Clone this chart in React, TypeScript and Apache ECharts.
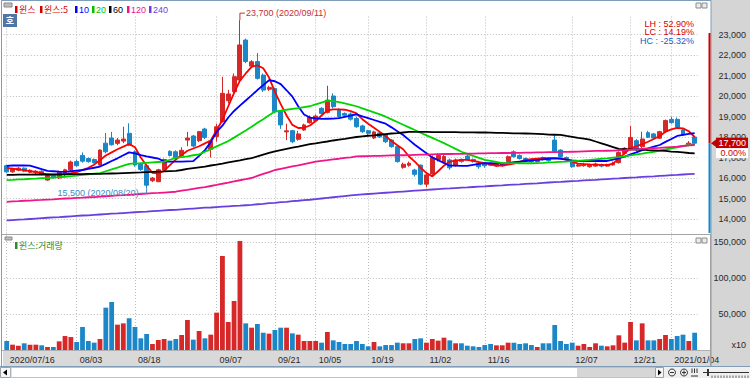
import React, { useEffect, useRef } from "react";
import * as echarts from "echarts";

const dates = [
  "2020/07/16","2020/07/17","2020/07/20","2020/07/21","2020/07/22","2020/07/23","2020/07/24","2020/07/27","2020/07/28","2020/07/29","2020/07/30","2020/07/31",
  "2020/08/03","2020/08/04","2020/08/05","2020/08/06","2020/08/07","2020/08/10","2020/08/11","2020/08/12","2020/08/13","2020/08/14","2020/08/18","2020/08/19","2020/08/20","2020/08/21","2020/08/24","2020/08/25","2020/08/26","2020/08/27","2020/08/28","2020/08/31",
  "2020/09/01","2020/09/02","2020/09/03","2020/09/04","2020/09/07","2020/09/08","2020/09/09","2020/09/10","2020/09/11","2020/09/14","2020/09/15","2020/09/16","2020/09/17","2020/09/18","2020/09/21","2020/09/22","2020/09/23","2020/09/24","2020/09/25","2020/09/28","2020/09/29",
  "2020/10/05","2020/10/06","2020/10/07","2020/10/08","2020/10/12","2020/10/13","2020/10/14","2020/10/15","2020/10/16","2020/10/19","2020/10/20","2020/10/21","2020/10/22","2020/10/23","2020/10/26","2020/10/27","2020/10/28","2020/10/29","2020/10/30",
  "2020/11/02","2020/11/03","2020/11/04","2020/11/05","2020/11/06","2020/11/09","2020/11/10","2020/11/11","2020/11/12","2020/11/13","2020/11/16","2020/11/17","2020/11/18","2020/11/19","2020/11/20","2020/11/23","2020/11/24","2020/11/25","2020/11/26","2020/11/27","2020/11/30",
  "2020/12/01","2020/12/02","2020/12/03","2020/12/04","2020/12/07","2020/12/08","2020/12/09","2020/12/10","2020/12/11","2020/12/14","2020/12/15","2020/12/16","2020/12/17","2020/12/18","2020/12/21","2020/12/22","2020/12/23","2020/12/24","2020/12/28","2020/12/29","2020/12/30",
  "2021/01/04","2021/01/05","2021/01/06","2021/01/07","2021/01/08",
];

const tickDates = ["2020/07/16","2020/08/03","2020/08/18","2020/09/07","2020/09/21","2020/10/05","2020/10/19","2020/11/02","2020/11/16","2020/12/07","2020/12/21","2021/01/04"];
const tickLabels = ["2020/07/16","08/03","08/18","09/07","09/21","10/05","10/19","11/02","11/16","12/07","12/21","2021/01/04"];

const opens = [
  16600,16300,16380,16480,16280,16280,16330,15900,16130,16000,
  16200,16400,16800,17100,16950,16900,16630,17700,17950,17690,
  17800,18180,17280,16680,16600,15870,15820,16400,17300,17280,
  17100,17850,18050,17820,18390,17400,18020,18750,19770,20210,
  20780,22730,21460,21680,21020,20330,20370,19240,18250,18310,
  17890,18340,18700,18800,19400,19200,20000,19320,19150,19120,
  18910,18540,18310,17950,18200,18100,17850,17530,16520,16620,
  16390,16630,15700,16200,16900,16750,16880,16600,16910,17070,
  16900,16720,16700,16700,16580,16600,16800,17280,17100,16950,
  16900,16800,17000,16950,17850,17360,17000,16800,16580,16600,
  16550,16580,16650,16580,16640,16750,17200,17400,17820,17530,
  18210,18150,17940,18260,18860,18860,18340,17620,18000,
];
const closes = [
  16300,16450,16480,16330,16380,16330,16180,16120,16020,16300,
  16400,16780,16600,16820,16800,16750,17360,17280,17620,17850,
  17900,17600,16630,16420,15650,16000,16400,16900,17100,17000,
  17350,17950,17560,18260,17980,17800,18500,20130,20100,20940,
  22490,21680,21670,20860,20290,20420,19240,18590,18300,17770,
  18150,18590,18960,19020,19150,19800,19480,19000,19060,18870,
  18500,18260,18180,18250,18000,17770,17530,16800,16670,16720,
  16180,15700,16150,17000,17100,17050,16500,16880,16800,16880,
  16800,16550,16600,16620,16720,16700,17040,17040,16950,16850,
  16800,16850,16900,16850,17300,17050,16900,16550,16640,16650,
  16630,16680,16580,16650,16720,17240,17450,17980,17400,17900,
  17990,17950,18260,18800,18700,18470,18100,17700,17700,
];
const lows = [
  16250,16250,16330,16280,16230,16200,16130,15870,15970,15950,
  16100,16350,16550,16750,16750,16700,16600,17200,17580,17600,
  17700,17550,16550,16350,15500,15800,15800,16350,17050,16950,
  17050,17550,17500,17750,17900,17000,17770,18700,19640,20100,
  20700,21600,21400,20800,20200,20250,19150,18400,17850,17700,
  17820,18300,18650,18750,19100,19150,19400,18950,18980,18800,
  18450,18200,18100,17900,17950,17700,17480,16750,16450,16550,
  16070,15650,15550,16150,16800,16700,16400,16550,16750,16850,
  16750,16450,16500,16580,16550,16550,16750,17000,16900,16800,
  16750,16750,16850,16800,17250,17000,16850,16500,16550,16550,
  16500,16550,16520,16550,16600,16700,17150,17350,17300,17450,
  17950,17900,17900,18200,18650,18400,18050,17550,17600,
];
const highs = [
  16650,16500,16530,16520,16420,16380,16380,16150,16170,16350,
  16450,16850,16900,17250,17000,16950,17400,18200,18250,17950,
  18500,18670,17350,16750,16650,16050,16450,16950,17350,17350,
  17500,18250,18100,18300,18450,17850,18650,20940,20300,21100,
  23700,22800,21750,22100,21100,20500,20400,19300,18650,18350,
  18300,18650,19050,19100,19450,20500,20130,19400,19200,19200,
  19000,18600,18350,18300,18250,18150,17900,17550,16750,16800,
  16450,16650,16300,17100,17200,17150,16950,16950,16950,17150,
  16950,16800,16750,16750,16780,16750,17100,17350,17150,17000,
  16950,16900,17050,17000,18100,17400,17050,16850,16700,16750,
  16700,16750,16700,16700,16800,17300,17500,18540,17900,18260,
  18300,18200,18300,18850,18990,18950,18400,17800,18050,
];
const volumes = [
  12500,7400,6000,9300,7400,7400,6500,4200,4200,12000,
  19400,18000,11100,32000,12500,10200,15300,58800,66700,35200,
  37000,44000,32000,16200,22200,8300,13900,15300,13000,15300,
  20800,41700,14400,26400,16200,21300,51900,130600,38900,68100,
  151400,37000,31000,36100,24000,22700,27800,31000,31000,23100,
  21300,12500,12500,12500,10200,25000,13400,11100,8300,8300,
  12500,8300,5100,11100,5100,6900,6900,10200,9300,9300,
  15300,16200,10200,15300,13000,17100,13400,9300,9300,6000,
  5100,4200,6900,8300,6500,6500,10200,10200,8300,9300,
  6900,4200,9300,9300,34700,12500,8300,10200,6000,8300,
  4200,9300,6000,5100,6500,20400,10200,38900,13400,37000,
  13400,13400,15300,20800,15300,19400,21300,12500,24000,
];

const ma5 = [
  16490,16460,16420,16380,16330,16300,16240,16170,16150,16170,
  16190,16230,16280,16390,16500,16650,16880,17100,17250,17400,
  17530,17660,17500,17000,16600,16250,16230,16350,16630,16900,
  17120,17330,17440,17550,17690,17830,18330,18830,19500,20150,
  20750,21100,21420,21500,21350,20900,20200,19600,19050,18590,
  18440,18450,18560,18780,19050,19300,19350,19350,19330,19260,
  19150,18870,18650,18450,18250,18050,17800,17600,17400,17050,
  16800,16500,16240,16080,16330,16600,16800,16850,16880,16880,
  16830,16780,16720,16660,16610,16600,16650,16700,16790,16880,
  16920,16950,16970,16970,16970,16970,16900,16800,16700,16680,
  16660,16650,16640,16630,16700,16950,17200,17450,17550,17650,
  17770,17900,18050,18260,18370,18440,18420,18280,18000,
];
const ma10 = [
  16590,16610,16620,16610,16600,16520,16430,16350,16330,16310,
  16300,16330,16360,16390,16450,16500,16560,16690,16830,16960,
  17110,17250,17200,17120,17050,17000,16950,16800,16800,16800,
  16800,16810,16820,17080,17360,17750,18250,18550,18950,19270,
  19530,19780,20030,20290,20530,20770,20720,20580,20280,19970,
  19500,19100,18950,18910,18880,18890,18900,18920,18980,19040,
  19100,19010,18920,18830,18740,18650,18470,18280,18100,17860,
  17620,17410,17210,17000,16870,16730,16600,16600,16590,16590,
  16640,16690,16730,16720,16710,16700,16730,16770,16800,16830,
  16850,16880,16910,16940,16960,16930,16900,16860,16830,16830,
  16830,16830,16830,16830,16900,16970,17040,17150,17250,17360,
  17440,17530,17610,17760,17900,18050,18100,18150,18190,
];
const ma20 = [
  15900,15910,15930,15940,15960,15970,15990,16000,16020,16040,
  16060,16090,16120,16150,16180,16210,16240,16330,16420,16510,
  16600,16690,16710,16720,16740,16760,16780,16800,16890,16980,
  17020,17060,17110,17150,17280,17410,17540,17670,17800,17970,
  18150,18320,18500,18690,18870,19060,19240,19280,19330,19370,
  19410,19460,19500,19590,19680,19770,19750,19700,19640,19570,
  19500,19400,19300,19200,19100,18990,18860,18730,18600,18470,
  18340,18210,18080,17960,17830,17700,17560,17420,17280,17180,
  17080,16980,16880,16830,16780,16730,16730,16730,16720,16720,
  16720,16730,16740,16760,16770,16790,16800,16820,16840,16860,
  16880,16910,16940,16960,16990,17020,17060,17100,17150,17190,
  17240,17280,17330,17390,17440,17500,17550,17610,17660,
];
const ma60 = [
  16150,16150,16160,16160,16160,16170,16170,16170,16180,16180,
  16180,16190,16190,16190,16200,16200,16200,16210,16220,16230,
  16240,16250,16260,16270,16290,16300,16310,16320,16340,16350,
  16390,16440,16480,16520,16560,16610,16650,16700,16760,16810,
  16860,16920,16970,17050,17140,17220,17300,17360,17420,17480,
  17530,17590,17650,17690,17740,17780,17830,17870,17910,17960,
  18000,18030,18060,18080,18110,18140,18170,18190,18220,18250,
  18250,18250,18250,18240,18240,18240,18240,18240,18230,18230,
  18230,18220,18220,18210,18200,18200,18190,18180,18180,18170,
  18160,18150,18140,18120,18110,18100,18050,18010,17960,17920,
  17870,17780,17690,17600,17510,17420,17410,17400,17390,17380,
  17360,17350,17340,17320,17290,17270,17250,17220,17200,
];
const ma120 = [
  14840,14860,14870,14890,14900,14920,14930,14950,14960,14980,
  15000,15010,15030,15040,15060,15070,15090,15110,15130,15150,
  15160,15180,15200,15220,15240,15260,15270,15290,15310,15330,
  15380,15420,15470,15520,15560,15610,15660,15720,15770,15830,
  15890,15940,16000,16100,16200,16290,16390,16450,16510,16570,
  16620,16680,16740,16800,16840,16870,16910,16940,16980,17010,
  17050,17060,17070,17080,17080,17090,17100,17110,17110,17120,
  17130,17140,17140,17150,17160,17170,17170,17180,17180,17190,
  17190,17200,17200,17210,17210,17220,17220,17230,17230,17240,
  17240,17250,17250,17260,17260,17270,17270,17280,17290,17300,
  17310,17320,17320,17330,17340,17350,17360,17380,17400,17420,
  17440,17460,17470,17490,17510,17530,17560,17590,17610,
];
const ma240 = [
  13930,13950,13970,13980,14000,14020,14040,14060,14080,14090,
  14110,14130,14150,14170,14180,14200,14220,14240,14260,14270,
  14290,14310,14330,14350,14360,14380,14400,14420,14440,14450,
  14470,14490,14510,14530,14550,14560,14580,14600,14620,14640,
  14650,14670,14690,14720,14740,14770,14790,14820,14840,14870,
  14890,14920,14940,14970,15000,15030,15060,15090,15120,15150,
  15180,15200,15220,15240,15260,15280,15300,15320,15340,15360,
  15380,15400,15420,15440,15460,15480,15490,15510,15530,15540,
  15560,15580,15590,15610,15630,15640,15660,15680,15690,15710,
  15730,15740,15760,15780,15800,15810,15830,15850,15860,15880,
  15900,15910,15930,15950,15970,15980,16000,16020,16030,16050,
  16070,16080,16100,16120,16140,16150,16170,16190,16200,
];

const maPeriods = [5, 10, 20, 60, 120, 240];
const maColors = ["#ff0000", "#0000ff", "#00d400", "#000000", "#f0168a", "#6a3fe0"];
const maValues = [ma5, ma10, ma20, ma60, ma120, ma240];

const stockName = "윈스";
const volumeName = "윈스:거래량";

const UP = "#d62828";
const DOWN = "#1b87c8";
const NUM = "Liberation Sans, Arial, sans-serif";
const KR = "'Noto Sans CJK KR', sans-serif";
const GRIDC = "#bcbcbc";

const fmt = (v: number) => Math.round(v).toLocaleString("en-US");

export default function App() {
  const ref = useRef<HTMLDivElement>(null);
  useEffect(() => {
    document.body.style.margin = "0";
    const chart = echarts.init(ref.current!, null, { renderer: "svg" });
    const n = dates.length;
    const pitch = 5.83;
    const gLeft = 3.8;
    const gWidth = pitch * n;
    const priceTop = 16.05;
    const priceH = 223.45;
    const volTop = 236.96;
    const volH = 113.04;
    const tickSet = new Set(tickDates.map((d) => dates.indexOf(d)));
    const labelMap: Record<string, string> = {};
    tickDates.forEach((d, k) => (labelMap[d] = tickLabels[k]));

    const vLines = (color: string) => ({
      silent: true,
      symbol: ["none", "none"],
      z: 1,
      label: { show: false },
      emphasis: { disabled: true },
      lineStyle: { color, type: [1, 2], width: 1 },
      data: tickDates.map((d) => ({ xAxis: d })),
    });

    const axisLabelRight = {
      formatter: (v: number) => fmt(v),
      align: "right",
      margin: 746 - (gLeft + gWidth),
      fontSize: 9,
      fontFamily: NUM,
      color: "#2a2a2a",
      showMinLabel: false,
      showMaxLabel: false,
    };
    const splitLine = {
      show: true,
      showMinLine: false,
      showMaxLine: false,
      lineStyle: { color: GRIDC, type: [1, 2], width: 1 },
    };

    const option: any = {
      animation: false,
      grid: [
        { left: gLeft, top: priceTop, width: gWidth, height: priceH },
        { left: gLeft, top: volTop, width: gWidth, height: volH },
      ],
      xAxis: [
        {
          type: "category", gridIndex: 0, data: dates, boundaryGap: true,
          axisLine: { show: false }, axisTick: { show: false }, axisLabel: { show: false }, splitLine: { show: false },
        },
        {
          type: "category", gridIndex: 1, data: dates, boundaryGap: true,
          axisLine: { show: false }, axisTick: { show: false }, splitLine: { show: false },
          axisLabel: {
            interval: (i: number) => tickSet.has(i),
            formatter: (v: string) => labelMap[v] || "",
            align: "left",
            padding: [0, 0, 0, 3],
            margin: 5,
            fontSize: 9,
            fontFamily: NUM,
            color: "#2a2a2a",
          },
        },
      ],
      yAxis: [
        {
          type: "value", gridIndex: 0, position: "right", min: 13000, max: 23900, interval: 1000,
          axisLine: { show: false }, axisTick: { show: false }, axisLabel: axisLabelRight, splitLine,
        },
        {
          type: "value", gridIndex: 1, position: "right", min: 0, max: 157000, interval: 50000,
          axisLine: { show: false }, axisTick: { show: false }, axisLabel: axisLabelRight, splitLine,
        },
      ],
      series: [
        {
          type: "candlestick",
          name: stockName,
          xAxisIndex: 0,
          yAxisIndex: 0,
          barWidth: 4.4,
          silent: true,
          z: 2,
          data: dates.map((_, i) => [opens[i], closes[i], lows[i], highs[i]]),
          itemStyle: { color: UP, color0: DOWN, borderColor: UP, borderColor0: DOWN, borderWidth: 1 },
          markLine: vLines(GRIDC),
        },
        ...maValues.map((arr, k) => ({
          type: "line",
          name: String(maPeriods[k]),
          xAxisIndex: 0,
          yAxisIndex: 0,
          data: arr,
          showSymbol: false,
          silent: true,
          z: 3,
          lineStyle: { width: 1.8, color: maColors[k] },
          itemStyle: { color: maColors[k] },
        })),
        {
          type: "bar",
          name: volumeName,
          xAxisIndex: 1,
          yAxisIndex: 1,
          barWidth: 4.8,
          silent: true,
          data: volumes.map((v, i) => ({
            value: v,
            itemStyle: { color: closes[i] >= opens[i] ? UP : DOWN },
          })),
          markLine: vLines(GRIDC),
        },
      ],
    };
    chart.setOption(option);

    let maxIdx = 0, minIdx = 0;
    highs.forEach((h, i) => { if (h > highs[maxIdx]) maxIdx = i; });
    lows.forEach((l, i) => { if (l < lows[minIdx]) minIdx = i; });
    const maxH = highs[maxIdx];
    const minL = lows[minIdx];
    const last = closes[n - 1];
    const prev = closes[n - 2];
    const pct = (a: number) => (a >= 0 ? "" : "-") + Math.abs(a).toFixed(2) + "%";
    const lh = pct(((maxH - minL) / minL) * 100);
    const lc = pct(((last - minL) / minL) * 100);
    const hc = pct(((last - maxH) / maxH) * 100);
    const chg = pct(((last - prev) / prev) * 100);

    const px = (i: number, v: number) => chart.convertToPixel({ gridIndex: 0 }, [i, v]) as number[];
    const [hx, hy] = px(maxIdx, maxH);
    const [lx, ly] = px(minIdx, minL);
    const [, cy] = px(n - 1, last);

    const T = (x: number, y: number, text: string, fill: string, font: string, align = "left", z = 30) => ({
      type: "text", x, y, z, silent: true,
      style: { text, fill, font, textAlign: align, align, textVerticalAlign: "middle", verticalAlign: "middle" },
    });
    const R = (x: number, y: number, w: number, h: number, fill: string, stroke?: string, z = 30) => ({
      type: "rect", z, silent: true, shape: { x, y, width: w, height: h },
      style: { fill, stroke: stroke || null, lineWidth: stroke ? 1 : 0 },
    });
    const L = (x1: number, y1: number, x2: number, y2: number, stroke: string, lw = 1, z = 30) => ({
      type: "line", z, silent: true, shape: { x1, y1, x2, y2 }, style: { stroke, lineWidth: lw },
    });
    const P = (points: number[][], fill: string, z = 30) => ({
      type: "polygon", z, silent: true, shape: { points }, style: { fill },
    });
    const PL = (points: number[][], stroke: string, z = 30) => ({
      type: "polyline", z, silent: true, shape: { points }, style: { stroke, lineWidth: 1, fill: null },
    });

    const f9 = `9px ${NUM}`;
    const k9 = `9px ${KR}`;
    const els: any[] = [];
    els.push(R(711, 0, 39, 367, "#d5d5d5", undefined, -10));
    els.push(R(3, 350.5, 708, 15.5, "#d9d9d9", undefined, -10));
    els.push(R(0, 367, 750, 11, "#efefef", undefined, -10));
    els.push(R(1.5, 0.5, 709.5, 366, "none", "#7f9db9", 20));
    els.push(L(2, 234.5, 711, 234.5, "#a6a6a6", 1, 20));
    els.push(L(2, 350.5, 711, 350.5, "#b0b0b0", 1, 20));
    els.push(L(0, 366.5, 750, 366.5, "#7f9db9", 1, 20));
    els.push(L(710.5, 234, 710.5, 366, "#a0a0a0", 1, 20));
    els.push(L(709.5, 33, 709.5, cy, "#d00000", 2, 25));
    els.push(L(709.5, cy, 709.5, 233, DOWN, 2, 25));
    els.push(R(4, 3, 8, 4, "#bdbdbd", "#8a8a8a"));
    const legendItems = [
      { x: 15, text: stockName, color: "#d40000", font: k9 },
      { x: 40, text: `${stockName}:${maPeriods[0]}`, color: "#d40000", font: k9 },
      { x: 75, text: String(maPeriods[1]), color: maColors[1], font: f9 },
      { x: 92, text: String(maPeriods[2]), color: "#00c000", font: f9 },
      { x: 109, text: String(maPeriods[3]), color: maColors[3], font: f9 },
      { x: 127, text: String(maPeriods[4]), color: maColors[4], font: f9 },
      { x: 149, text: String(maPeriods[5]), color: maColors[5], font: f9 },
    ];
    legendItems.forEach((it) => {
      els.push(R(it.x, 6, 2.5, 7, it.color));
      els.push(T(it.x + 4, 9.5, it.text, it.color, it.font));
    });
    els.push(R(3, 14, 14, 13, "#4f77a6"));
    els.push(T(10, 20.5, "호", "#ffffff", `bold 9px ${KR}`, "center"));
    [3, 238].forEach((yy) => {
      els.push(R(696, yy, 5, 5, "#ececec", "#8c8c8c"));
      els.push(R(702, yy, 5, 5, "#ececec", "#8c8c8c"));
    });
    els.push(T(694, 23.5, `LH : ${lh}`, "#d40000", f9, "right"));
    els.push(T(694, 32, `LC : ${lc}`, "#d40000", f9, "right"));
    els.push(T(694, 40.5, `HC : ${hc}`, "#1060c8", f9, "right"));
    els.push(PL([[hx, hy], [hx, hy - 7], [hx + 5, hy - 7]], "#c83030"));
    els.push(T(hx + 6, hy - 7, `${fmt(maxH)} (${dates[maxIdx]})`, "#c83030", f9));
    els.push(PL([[lx, ly], [lx, ly + 5], [lx - 7, ly + 5]], "#3a8ac4"));
    els.push(T(lx - 8, ly + 5, `${fmt(minL)} (${dates[minIdx]})`, "#3a8ac4", f9, "right"));
    els.push(P([[711, cy], [717, cy - 4.5], [717, cy + 4.5]], "#c00000"));
    els.push(R(716, cy - 5.5, 32, 10.5, "#c00000"));
    els.push(T(746, cy, fmt(last), "#ffffff", f9, "right", 31));
    els.push(R(716, cy + 5, 32, 10, "#ffffff"));
    els.push(T(746, cy + 10, chg, "#d00000", f9, "right", 31));
    els.push(R(5, 237, 7, 3, "#bdbdbd", "#8a8a8a"));
    els.push(R(15, 242, 2.5, 7, "#2e8b2e"));
    els.push(T(19, 245.5, volumeName, "#2e8b2e", k9));
    els.push(T(746, 345, "x10", "#2a2a2a", f9, "right"));
    els.push(R(0.5, 367.5, 10, 10, "#f6f6f6", "#a0a0a0"));
    els.push(P([[3, 372.5], [7, 369.5], [7, 375.5]], "#000000"));
    els.push(R(11, 367.5, 644, 10, "#ffffff", "#b4c4d4"));
    els.push(R(577, 368, 78, 9, "#d6d6d6"));
    els.push(R(655.5, 367.5, 8, 10, "#f6f6f6", "#a0a0a0"));
    els.push(P([[661.5, 372.5], [658, 369.5], [658, 375.5]], "#000000"));
    els.push({ type: "circle", z: 30, silent: true, shape: { cx: 672, cy: 372.5, r: 3.5 }, style: { fill: "none", stroke: "#333", lineWidth: 1 } });
    els.push(L(670, 372.5, 674, 372.5, "#333"));
    els.push({ type: "circle", z: 30, silent: true, shape: { cx: 684, cy: 372.5, r: 3.5 }, style: { fill: "none", stroke: "#333", lineWidth: 1 } });
    els.push(L(682, 372.5, 686, 372.5, "#333"));
    els.push(L(684, 370.5, 684, 374.5, "#333"));
    [692, 694.5, 697].forEach((x) => els.push(L(x, 368.5, x, 373, "#333")));
    els.push(L(691, 376, 698, 376, "#333"));
    els.push(L(703, 372.5, 749, 372.5, "#333"));
    els.push(R(707, 369, 2, 7, "#333"));
    for (let x = 712; x < 750; x += 3) els.push(L(x, 375.5, x, 378, "#666"));

    chart.setOption({ graphic: { elements: els } });
    return () => chart.dispose();
  }, []);
  return <div ref={ref} style={{ width: 750, height: 378 }} />;
}
